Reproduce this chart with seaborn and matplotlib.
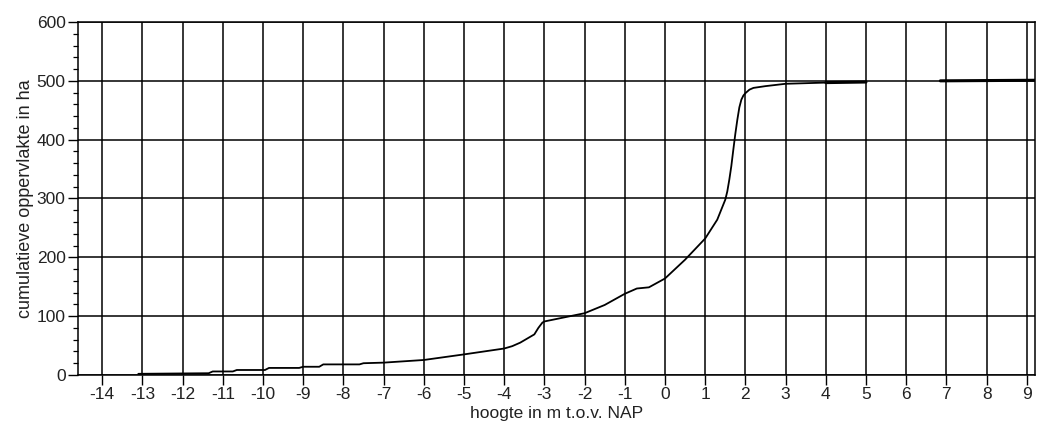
import seaborn as sns
import matplotlib.pyplot as plt
from matplotlib.ticker import MultipleLocator

# hoogte (m t.o.v. NAP) and cumulatieve oppervlakte (ha)
hoogte = [-13.1, -11.35, -11.25, -10.75, -10.65, -9.95, -9.85, -9.1, -9.0,
          -8.6, -8.5, -7.6, -7.5, -7.0, -6.0, -5.0, -4.0, -3.8, -3.6, -3.4,
          -3.25, -3.15, -3.05, -3.0, -2.5, -2.0, -1.5, -1.0, -0.7, -0.4, 0.0,
          0.5, 1.0, 1.3, 1.5, 1.55, 1.6, 1.65, 1.7, 1.75, 1.8, 1.85, 1.9,
          1.95, 2.0, 2.1, 2.2, 2.5, 3.0, 3.5, 4.0]
oppervlakte = [2, 3, 6, 6, 8.5, 8.5, 12, 12, 14,
               14, 18, 18, 20, 21, 25.5, 35, 45, 49, 55, 63,
               69, 80, 89, 91, 98, 105, 119, 138, 147, 149, 164,
               196, 232, 264, 298, 312, 332, 355, 383, 410, 434, 455, 468,
               475, 479, 485, 488, 491, 495, 496, 497]

# two flat pieces at the top, drawn heavier in the original
hoogte_b = [4.0, 5.0]
oppervlakte_b = [497, 498]
hoogte_c = [6.85, 9.25]
oppervlakte_c = [500, 501]

x_ticks = list(range(-14, 10))
y_ticks = [0, 100, 200, 300, 400, 500, 600]

sns.set_style("ticks")
plt.rcParams['font.family'] = ['Liberation Sans', 'DejaVu Sans']

fig = plt.figure(figsize=(10.39, 4.29), dpi=100)
ax = fig.add_axes([0.0751, 0.1259, 0.9209, 0.8228])

sns.lineplot(x=hoogte, y=oppervlakte, ax=ax, color="black", linewidth=1.3,
             estimator=None, sort=False)
sns.lineplot(x=hoogte_b, y=oppervlakte_b, ax=ax, color="black", linewidth=2.2,
             estimator=None, sort=False)
sns.lineplot(x=hoogte_c, y=oppervlakte_c, ax=ax, color="black", linewidth=2.2,
             estimator=None, sort=False)

ax.set_xlim(-14.6, 9.2)
ax.set_ylim(0, 600)
ax.set_xticks(x_ticks)
ax.set_xticklabels([str(t) for t in x_ticks])
ax.set_yticks(y_ticks)
ax.yaxis.set_minor_locator(MultipleLocator(20))

ax.grid(True, which="major", color="black", linewidth=1.1)
ax.set_axisbelow(True)
for s in ax.spines.values():
    s.set_color("black")
    s.set_linewidth(1.1)

ax.tick_params(axis="both", which="major", direction="out", length=7,
               width=1.0, color="black", labelsize=12.5, labelcolor="#222222")
ax.tick_params(axis="y", which="minor", direction="out", length=3.5,
               width=0.9, color="black")
ax.tick_params(axis="x", pad=2)
ax.tick_params(axis="y", pad=2)

ax.set_xlabel("hoogte in m t.o.v. NAP", fontsize=12.5, color="#222222", labelpad=2.5)
ax.set_ylabel("cumulatieve oppervlakte in ha", fontsize=13, color="#222222",
              labelpad=2)

fig.savefig("out.png", dpi=100)
